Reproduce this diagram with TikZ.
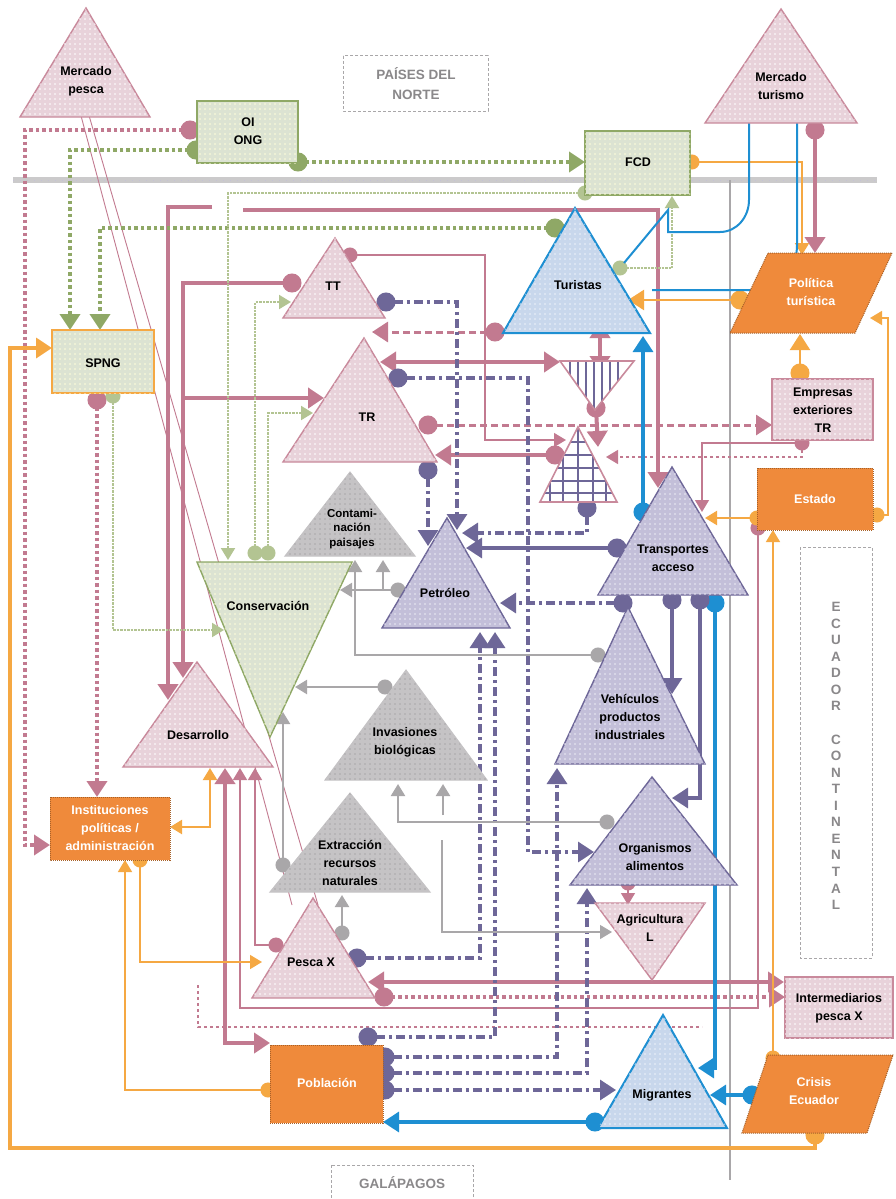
\documentclass[tikz,border=0pt]{standalone}
\usepackage{fontspec}
\setmainfont{Liberation Sans}
\usetikzlibrary{arrows.meta,patterns.meta}
\definecolor{pkF}{HTML}{E8D2DA}
\definecolor{pkL}{HTML}{C98A9C}
\definecolor{pkC}{HTML}{C27A90}
\definecolor{grF}{HTML}{DCE3D2}
\definecolor{grL}{HTML}{8FA866}
\definecolor{grT}{HTML}{B3C492}
\definecolor{puF}{HTML}{C3BFD9}
\definecolor{puL}{HTML}{6E6798}
\definecolor{gyF}{HTML}{C5C3C5}
\definecolor{gyL}{HTML}{A9A7A9}
\definecolor{blF}{HTML}{C8D7EC}
\definecolor{blL}{HTML}{1E8FD2}
\definecolor{orF}{HTML}{EF8A3B}
\definecolor{orL}{HTML}{F5A843}
\definecolor{txG}{HTML}{8A888A}
\tikzdeclarepattern{
  name=wdots,
  type=uncolored,
  bounding box={(-2.5pt,-2.5pt) and (2.5pt,2.5pt)},
  tile size={(5pt,5pt)},
  code={\fill (0pt,0pt) circle (0.8pt);}
}
\tikzset{
 lbl/.style={font=\fontsize{12.5}{18}\selectfont\bfseries, align=center, text=black, inner sep=0pt},
 wlbl/.style={lbl, text=white},
 glbl/.style={font=\fontsize{13.5}{20}\selectfont\bfseries, align=center, text=txG, inner sep=0pt},
 pkS/.style={draw=pkL, fill=pkF, line width=1.4pt, postaction={pattern=wdots, pattern color=white}},
 grS/.style={draw=grL, fill=grF, line width=1.4pt, postaction={pattern=wdots, pattern color=white!85!yellow}},
 puS/.style={draw=puL, fill=puF, line width=1.4pt, postaction={pattern=wdots, pattern color=white!70!puF}},
 gyS/.style={draw=gyF, fill=gyF, line width=1pt, postaction={pattern=wdots, pattern color=gyL}},
 blS/.style={draw=blL, fill=blF, line width=2pt, postaction={pattern=wdots, pattern color=white!70!blF}},
 orS/.style={draw=orF!70!black, fill=orF, line width=1pt, densely dotted},
 cpk/.style={draw=pkC, line width=4pt},
 cpkt/.style={draw=pkC, line width=1.3pt},
 cpkd/.style={draw=pkC, line width=3pt, dash pattern=on 7pt off 4pt},
 cpko/.style={draw=pkC, line width=3.6pt, dash pattern=on 3.5pt off 3pt},
 cgr/.style={draw=grL, line width=3.6pt, dash pattern=on 3.5pt off 3pt},
 cgrt/.style={draw=grT, line width=2pt, dash pattern=on 2.5pt off 1pt},
 cpu/.style={draw=puL, line width=3.2pt, dash pattern=on 9pt off 4pt on 3pt off 4pt},
 cpus/.style={draw=puL, line width=3.2pt},
 cgy/.style={draw=gyL, line width=2.2pt},
 cbl/.style={draw=blL, line width=3.2pt},
 cor/.style={draw=orL, line width=2.2pt},
 aB/.style={-{Triangle[length=16pt,width=20pt]}},
 aM/.style={-{Triangle[length=12pt,width=14pt]}},
 aBB/.style={{Triangle[length=16pt,width=20pt]}-{Triangle[length=16pt,width=20pt]}},
 aMM/.style={{Triangle[length=12pt,width=14pt]}-{Triangle[length=12pt,width=14pt]}},
 cTB/.style={{Circle[length=19pt]}-{Triangle[length=16pt,width=20pt]}, shorten <=-9.5pt},
 cTM/.style={{Circle[length=15pt]}-{Triangle[length=12pt,width=14pt]}, shorten <=-7.5pt},
}
\begin{document}
\begin{tikzpicture}[x=1pt,y=-1pt]
\useasboundingbox (0,0) rectangle (895,1199);
\fill[white] (0,0) rectangle (895,1199);

% region lines
\draw[draw=gyL!60, line width=6pt] (13,180) -- (877,180);
\draw[draw=puL!40, line width=1pt, dash pattern=on 1pt off 6pt] (13,180) -- (877,180);
\draw[draw=gyL, line width=2.2pt] (730,180) -- (730,1180);

% boxes of regions
\draw[gyL, line width=1pt, densely dashed] (343,56) rectangle (488,111);
\node[glbl] (norte) at (416,84) {PAÍSES DEL\\NORTE};
\draw[gyL, line width=1pt, densely dashed] (331,1165) rectangle (473,1205);
\node[glbl] (galap) at (402,1183) {GALÁPAGOS};
\draw[gyL, line width=1pt, densely dashed] (800,547) rectangle (872,958);
\foreach \l [count=\i from 0] in {E,C,U,A,D,O,R}
  \node[glbl] (ecA\i) at (836,607+16.55*\i) {\l};
\foreach \l [count=\i from 8] in {C,O,N,T,I,N,E,N,T,A,L}
  \node[glbl] (ecB\i) at (836,607+16.55*\i) {\l};

% ================= connectors (drawn first) =================
% pink
\draw[cpko, cTB] (190,130) -- (25,130) -- (25,845) -- (50,845);
\draw[cpko, cTB] (97,400) -- (97,797);
\draw[cpkt, line width=0.9pt] (80,112) -- (292,905);
\draw[cpkt, line width=0.9pt] (88,112) -- (318,905);
\draw[cpk, cTB] (292,283) -- (183,283) -- (183,678);
\draw[cpk, aB] (212,207) -- (168,207) -- (168,700);
\draw[cpk, aB] (183,398) -- (324,398);
\draw[cpk, aB] (243,210) -- (658,210) -- (658,488);
\draw[cpkt, cTM] (350,255) -- (485,255) -- (485,440) -- (566,440);
\draw[cpkd, cTB] (495,332) -- (372,332);
\draw[cpk, aBB] (380,362) -- (560,362);
\draw[cpkd, cTB] (428,425) -- (772,425);
\draw[cpk, cTB] (555,455) -- (435,455);
\draw[cpkt, dashed, cTM] (802,443) -- (802,457) -- (606,457);
\draw[cpkt, aM] (802,443) -- (702,443) -- (702,512);
\draw[cpk, aBB] (600,322) -- (600,372);
\draw[cpk, cTB] (596,408) -- (598,447);
\draw[cpk, cTB] (815,130) -- (815,253);
\draw[cpk, aBB] (368,982) -- (784,982);
\draw[cpko, cTB] (384,997) -- (785,997);
\draw[cpkt, dashed] (198,985) -- (198,1027) -- (702,1027);
\draw[cpkt, cTM] (758,528) -- (758,1008) -- (240,1008) -- (240,768);
\draw[cpkt, cTM] (276,945) -- (255,945) -- (255,768);
\draw[cpk, aBB] (225,768) -- (225,1043) -- (270,1043);
\draw[cpkt, cTM] (628,883) -- (628,905);
% green
\draw[cgr, cTB] (196,150) -- (70,150) -- (70,330);
\draw[cgr, cTB] (298,162) -- (585,162);
\draw[cgr, cTB] (555,228) -- (100,228) -- (100,330);
\draw[cgrt, cTM] (585,193) -- (228,193) -- (228,560);
\draw[cgrt, cTM] (620,268) -- (672,268) -- (672,196);
\draw[cgrt, cTM] (113,396) -- (113,630) -- (224,630);
\draw[cgrt, cTM] (255,553) -- (255,302) -- (291,302);
\draw[cgrt, cTM] (268,553) -- (268,413) -- (313,413);
% orange
\draw[cor, cTM] (692,162) -- (802,162) -- (802,255);
\draw[cor, cTB] (740,300) -- (628,300);
\draw[cor, cTB] (800,373) -- (800,334);
\draw[cor, line width=1.5pt, cTM] (877,515) -- (888,515) -- (888,318) -- (870,318);
\draw[cor, cTM] (757,518) -- (705,518);
\draw[cor, line width=1.5pt, cTM] (773,1058) -- (773,530);
\draw[cor, line width=3.5pt, cTB] (815,1135) -- (815,1148) -- (10,1148) -- (10,348) -- (52,348);
\draw[cor, aMM] (170,827) -- (210,827) -- (210,768);
\draw[cor, line width=1.5pt, cTM] (140,860) -- (140,962) -- (262,962);
\draw[cor, line width=1.5pt, cTM] (268,1090) -- (125,1090) -- (125,860);
% blue
\draw[cbl, line width=2pt] (749,123) -- (749,200) to[out=-90,in=0] (720,232) -- (668,232) -- (668,210) -- (624,263);
\draw[cbl, line width=2pt] (797,123) -- (797,245) to[out=-90,in=0] (760,290) -- (652,290);
\draw[cbl, cTB] (643,512) -- (643,336);
\draw[cbl, cTB] (715,603) -- (715,1068) -- (698,1068);
\draw[cbl, cTB] (752,1095) -- (710,1095);
\draw[cbl, cTB] (595,1122) -- (383,1122);
% purple
\draw[cpu, cTB] (386,302) -- (457,302) -- (457,530);
\draw[cpu, cTB] (398,378) -- (528,378) -- (528,852) -- (594,852);
\draw[cpu, cTB] (428,470) -- (428,546);
\draw[cpu, cTB] (587,508) -- (587,533) -- (462,533);
\draw[cpus, cTB] (617,548) -- (466,548);
\draw[cpus, cTB] (672,600) -- (672,694);
\draw[cpus, cTB] (700,600) -- (700,798) -- (672,798);
\draw[cpu, cTB] (623,603) -- (500,603);
\draw[cpu, cTB] (357,958) -- (480,958) -- (480,632);
\draw[cpu, cTB] (368,1037) -- (495,1037) -- (495,632);
\draw[cpu, cTB] (385,1057) -- (557,1057) -- (557,768);
\draw[cpu, cTB] (385,1073) -- (587,1073) -- (587,888);
\draw[cpu, cTB] (385,1090) -- (616,1090);
% gray
\draw[cgy, cTM] (385,687) -- (295,687);
\draw[cgy, cTM] (607,822) -- (398,822) -- (398,784);
\draw[cgy, aM] (443,815) -- (443,784);
\draw[cgy, cTM] (598,655) -- (355,655) -- (355,560);
\draw[cgy, cTM] (398,590) -- (340,590);
\draw[cgy, aM] (383,590) -- (383,560);
\draw[cgy, cTM] (283,865) -- (283,712);
\draw[cgy, cTM] (342,933) -- (342,895);
\draw[cgy, line width=1.2pt, aM] (442,840) -- (442,932) -- (612,932);

% ================= shapes =================
\filldraw[pkS] (86,8) -- (150,117) -- (20,117) -- cycle;
\node[lbl] (mpesca) at (86,81) {Mercado\\pesca};
\filldraw[grS] (197,101) rectangle (298,163);
\node[lbl] (oiong) at (248,131) {OI\\ONG};
\filldraw[pkS] (781,9) -- (857,123) -- (705,123) -- cycle;
\node[lbl] (mturismo) at (781,86) {Mercado\\turismo};
\filldraw[grS] (585,131) rectangle (690,195);
\node[lbl] (fcd) at (638,162) {FCD};
\filldraw[blS] (575,208) -- (650,333) -- (503,333) -- cycle;
\node[lbl] (turistas) at (578,285) {Turistas};
\filldraw[orS] (768,253) -- (892,253) -- (855,333) -- (730,333) -- cycle;
\node[wlbl] (polt) at (811,292) {Política\\turística};
\filldraw[grS, draw=orL] (52,330) rectangle (154,393);
\node[lbl] (spng) at (103,363) {SPNG};
\filldraw[pkS] (335,238) -- (385,318) -- (283,318) -- cycle;
\node[lbl] (tt) at (333,286) {TT};
\filldraw[pkS] (364,338) -- (437,462) -- (283,462) -- cycle;
\node[lbl] (tr) at (367,417) {TR};
% hatched inverted triangle
\begin{scope}
\clip (560,361) -- (634,361) -- (595,410) -- cycle;
\fill[white] (555,355) rectangle (640,415);
\foreach \x in {570,578,586,594,602,610,618} \draw[puL, line width=1.4pt] (\x,355) -- (\x,415);
\end{scope}
\draw[pkL, line width=1.6pt] (560,361) -- (634,361) -- (595,410) -- cycle;
\coordinate (hatch) at (595,380);
% grid triangle
\begin{scope}
\clip (578,427) -- (617,502) -- (540,502) -- cycle;
\fill[white] (535,420) rectangle (625,505);
\foreach \x in {550,563,578,593,606} \draw[puL, line width=1.2pt] (\x,420) -- (\x,505);
\foreach \y in {442,455,468,481,493} \draw[puL, line width=1.2pt] (535,\y) -- (625,\y);
\end{scope}
\draw[pkL, line width=1.6pt] (578,427) -- (617,502) -- (540,502) -- cycle;
\coordinate (grid) at (578,475);
\filldraw[pkS] (772,379) rectangle (873,440);
\node[lbl] (empresas) at (823,410) {Empresas\\exteriores\\TR};
\filldraw[orS] (757,468) rectangle (873,530);
\node[wlbl] (estado) at (815,499) {Estado};
\filldraw[gyS] (350,472) -- (415,556) -- (285,556) -- cycle;
\node[lbl, font=\fontsize{11.5}{14.5}\selectfont\bfseries] (contam) at (352,529) {Contami-\\nación\\paisajes};
\filldraw[puS] (447,518) -- (510,628) -- (382,628) -- cycle;
\node[lbl] (petroleo) at (445,593) {Petróleo};
\filldraw[puS] (672,467) -- (748,595) -- (598,595) -- cycle;
\node[lbl] (transp) at (673,558) {Transportes\\acceso};
\filldraw[grS] (197,562) -- (352,562) -- (270,737) -- cycle;
\node[lbl] (conserv) at (268,606) {Conservación};
\filldraw[pkS] (197,662) -- (273,767) -- (123,767) -- cycle;
\node[lbl] (desarr) at (198,735) {Desarrollo};
\filldraw[gyS] (406,670) -- (487,780) -- (325,780) -- cycle;
\node[lbl] (invas) at (405,742) {Invasiones\\biológicas};
\filldraw[puS] (628,607) -- (705,764) -- (555,764) -- cycle;
\node[lbl] (vehic) at (630,717) {Vehículos\\productos\\industriales};
\filldraw[orS] (50,797) rectangle (170,860);
\node[wlbl] (instit) at (110,828) {Instituciones\\políticas /\\administración};
\filldraw[gyS] (350,793) -- (430,892) -- (270,892) -- cycle;
\node[lbl] (extrac) at (350,863) {Extracción\\recursos\\naturales};
\filldraw[puS] (652,777) -- (737,885) -- (570,885) -- cycle;
\node[lbl] (organ) at (655,857) {Organismos\\alimentos};
\filldraw[pkS] (595,903) -- (705,903) -- (652,980) -- cycle;
\node[lbl] (agric) at (650,928) {Agricultura\\L};
\filldraw[pkS] (313,898) -- (375,998) -- (252,998) -- cycle;
\node[lbl] (pesca) at (311,962) {Pesca X};
\filldraw[pkS] (785,977) rectangle (893,1038);
\node[lbl] (interm) at (839,1008) {Intermediarios\\pesca X};
\filldraw[orS] (270,1045) rectangle (383,1123);
\node[wlbl] (poblac) at (327,1083) {Población};
\filldraw[blS] (663,1015) -- (727,1128) -- (598,1128) -- cycle;
\node[lbl] (migr) at (662,1095) {Migrantes};
\filldraw[orS] (768,1055) -- (893,1055) -- (867,1133) -- (742,1133) -- cycle;
\node[wlbl] (crisis) at (814,1091) {Crisis\\Ecuador};
\end{tikzpicture}
\end{document}
